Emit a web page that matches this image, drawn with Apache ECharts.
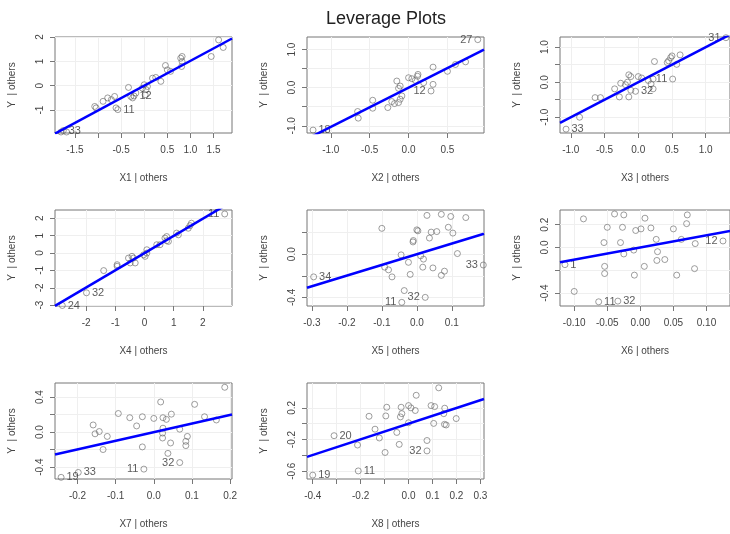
<!DOCTYPE html>
<html><head><meta charset="utf-8">
<script src="https://cdn.jsdelivr.net/npm/echarts@6/dist/echarts.min.js"></script>
<style>html,body{margin:0;padding:0;background:#fff}#c{width:730px;height:534px}</style>
</head><body><div id="c"></div>
<script>
const xNames = ['X1 | others','X2 | others','X3 | others','X4 | others','X5 | others','X6 | others','X7 | others','X8 | others'];
const slopes = [1.02, 1.03, 1.0, 0.99, 0.99, 1.07, 0.985, 0.988];

const x1 = [1.61,1.71,1.45,0.79,0.82,0.81,0.46,0.50,0.57,0.18,0.36,0.07,0.00,0.04,0.02,-0.18,-0.25,-0.22,-0.34,-0.64,-0.71,-0.79,-0.89,-1.04,-1.07,-0.61,-0.57,-1.75,-1.68,-1.80,0.25,-0.04,-0.29,0.82];
const y1 = [1.88,1.57,1.20,1.13,1.20,0.79,0.83,0.65,0.59,0.31,0.18,-0.03,0.04,-0.16,-0.37,-0.30,-0.50,-0.42,-0.07,-0.44,-0.57,-0.50,-0.64,-0.91,-0.85,-0.91,-0.98,-1.84,-1.90,-1.90,0.34,-0.10,-0.44,0.99];
const lab1 = {17:'12',26:'11',27:'33'};

const x2 = [0.89,0.315,0.603,0.733,0.50,0.121,0.0,0.043,0.086,-0.151,-0.108,-0.129,-0.086,-0.108,-0.129,-0.216,-0.181,-0.267,-0.461,-0.461,-0.655,-0.647,-1.228,0.289,0.315,0.194,0.115];
const y2 = [1.261,0.539,0.609,0.678,0.43,0.348,0.261,0.235,0.191,0.174,0.043,-0.017,-0.217,-0.304,-0.391,-0.365,-0.417,-0.522,-0.33,-0.539,-0.626,-0.8,-1.113,-0.087,0.087,0.13,0.30];
const lab2 = {0:'27',22:'18',23:'12'};

const x3 = [1.30,0.62,0.48,0.50,0.45,0.43,0.57,0.24,0.51,0.22,0.15,0.19,0.22,0.00,0.05,-0.14,-0.11,-0.16,-0.19,-0.26,-0.11,-0.04,-0.35,-0.28,-0.14,-0.64,-0.56,-0.87,-1.07];
const y3 = [1.27,0.78,0.70,0.75,0.61,0.56,0.51,0.59,0.09,0.09,0.05,-0.05,-0.19,0.16,0.12,0.21,0.16,0.00,-0.07,-0.03,-0.23,-0.26,-0.19,-0.42,-0.42,-0.44,-0.44,-1.00,-1.34];
const lab3 = {0:'31',8:'11',21:'32',28:'33'};

const x4 = [2.75,1.61,1.56,1.50,1.10,1.16,0.76,0.70,0.82,0.76,0.42,0.53,0.08,0.02,-0.03,0.08,-0.43,-0.55,-0.38,-0.32,-0.49,-0.94,-0.94,-1.40,-1.99,-2.82];
const y4 = [2.25,1.72,1.58,1.43,1.15,1.05,0.95,0.86,0.67,0.71,0.48,0.48,0.19,-0.19,-0.10,0.00,-0.19,-0.29,-0.29,-0.57,-0.57,-0.67,-0.76,-1.01,-2.29,-3.02];
const lab4 = {0:'11',24:'32',25:'24'};

const x5 = [0.029,0.07,0.097,0.14,-0.10,0.09,0.103,0.0,0.003,0.041,0.057,0.036,-0.01,-0.011,-0.045,0.011,0.019,0.116,-0.024,-0.092,-0.081,-0.071,-0.019,0.017,0.046,0.079,0.07,-0.295,-0.036,0.024,-0.043,0.19];
const y5 = [0.36,0.37,0.35,0.34,0.24,0.25,0.196,0.226,0.217,0.205,0.21,0.15,0.127,0.114,-0.006,-0.015,-0.045,0.006,-0.075,-0.12,-0.145,-0.21,-0.187,-0.12,-0.127,-0.157,-0.196,-0.21,-0.337,-0.40,-0.446,-0.10];
const lab5 = {27:'34',29:'32',30:'11',31:'33'};

const x6 = [-0.086,-0.039,-0.025,-0.05,-0.027,-0.007,0.001,0.007,0.016,0.05,0.071,0.07,0.024,0.062,0.083,0.125,-0.055,-0.03,-0.025,-0.01,0.026,0.025,0.037,-0.054,-0.054,-0.009,0.006,0.055,0.082,-0.114,-0.10,-0.063,-0.034];
const y6 = [0.251,0.294,0.286,0.177,0.177,0.149,0.163,0.257,0.171,0.163,0.286,0.209,0.071,0.071,0.034,0.057,0.043,0.043,-0.057,-0.023,-0.037,-0.114,-0.106,-0.166,-0.229,-0.243,-0.166,-0.243,-0.186,-0.151,-0.386,-0.477,-0.471];
const lab6 = {15:'12',29:'1',31:'11',32:'32'};

const x7 = [0.186,0.107,0.018,-0.093,-0.063,-0.03,0.0,0.024,0.033,0.046,0.133,0.164,-0.045,-0.159,-0.143,-0.154,-0.122,0.024,0.023,0.023,0.068,0.088,0.084,0.084,0.044,-0.03,-0.133,0.037,0.068,-0.026,-0.243,-0.198];
const y7 = [0.513,0.318,0.345,0.213,0.165,0.176,0.157,0.165,0.146,0.206,0.176,0.139,0.071,0.082,0.007,-0.019,-0.049,0.045,-0.011,-0.067,0.034,-0.049,-0.105,-0.154,-0.124,-0.169,-0.199,-0.243,-0.348,-0.423,-0.517,-0.461];
const lab7 = {28:'32',29:'11',30:'19',31:'33'};

const x8 = [0.126,0.032,-0.091,-0.095,-0.031,-0.028,-0.034,0.0,0.01,0.028,0.094,0.109,0.151,0.147,0.199,0.0,0.105,0.15,0.157,-0.165,-0.14,-0.122,-0.049,-0.039,-0.098,-0.213,0.077,0.077,-0.311,-0.21,-0.40];
const y8 = [0.453,0.359,0.208,0.098,0.208,0.127,0.086,0.229,0.2,0.167,0.229,0.216,0.196,0.127,0.065,0.012,0.004,-0.008,-0.016,0.094,-0.069,-0.18,-0.11,-0.261,-0.363,-0.269,-0.212,-0.343,-0.151,-0.596,-0.649];
const lab8 = {27:'32',28:'20',29:'11',30:'19'};

// axis ticks and tick labels
const xTicks = [[-1.5,-1,-0.5,0,0.5,1,1.5],[-1,-0.5,0,0.5],[-1,-0.5,0,0.5,1],[-2,-1,0,1,2],[-0.3,-0.2,-0.1,0,0.1],[-0.1,-0.05,0,0.05,0.1],[-0.2,-0.1,0,0.1,0.2],[-0.4,-0.3,-0.2,-0.1,0,0.1,0.2,0.3]];
const xTickLabels = [['-1.5','','-0.5','','0.5','1.0','1.5'],['-1.0','-0.5','0.0','0.5'],['-1.0','-0.5','0.0','0.5','1.0'],['-2','-1','0','1','2'],['-0.3','-0.2','-0.1','0.0','0.1'],['-0.10','-0.05','0.00','0.05','0.10'],['-0.2','-0.1','0.0','0.1','0.2'],['-0.4','','-0.2','','0.0','0.1','0.2','0.3']];
const yTicks = [[-1,0,1,2],[-1,-0.5,0,0.5,1],[-1,-0.5,0,0.5,1],[-3,-2,-1,0,1,2],[-0.4,-0.2,0,0.2],[-0.4,-0.2,0,0.2],[-0.4,-0.2,0,0.2,0.4],[-0.6,-0.4,-0.2,0,0.2]];
const yTickLabels = [['-1','0','1','2'],['-1.0','','0.0','','1.0'],['-1.0','','0.0','','1.0'],['-3','-2','-1','0','1','2'],['-0.4','','0.0',''],['-0.4','','0.0','0.2'],['-0.4','','0.0','','0.4'],['-0.6','','-0.2','','0.2']];

const xRanges = [[-1.93,1.90],[-1.306,0.97],[-1.16,1.36],[-3.07,3.0],[-0.314,0.192],[-0.1215,0.1356],[-0.259,0.205],[-0.424,0.315]];
const yRanges = [[-1.94,2.0],[-1.19,1.33],[-1.45,1.29],[-3.05,2.48],[-0.48,0.41],[-0.514,0.329],[-0.536,0.562],[-0.698,0.514]];

const xs = [x1,x2,x3,x4,x5,x6,x7,x8];
const ys = [y1,y2,y3,y4,y5,y6,y7,y8];
const labs = [lab1,lab2,lab3,lab4,lab5,lab6,lab7,lab8];

const lefts = [55,307,560], tops = [37,210,383];
const FONT = 'Liberation Sans, Arial, sans-serif';

const grids = [], xAxes = [], yAxes = [], series = [];
function lookup(ticks, labels, v){
  for (let i=0;i<ticks.length;i++) if (Math.abs(ticks[i]-v) < 1e-9) return labels[i];
  return '';
}
for (let p=0;p<8;p++){
  const r = Math.floor(p/3), c = p%3;
  grids.push({left: lefts[c], top: tops[r], width: 177, height: 96, show: true, borderColor: '#777', borderWidth: 1, backgroundColor: 'transparent'});
  const xt = xTicks[p], xl = xTickLabels[p], yt = yTicks[p], yl = yTickLabels[p];
  xAxes.push({type:'value', gridIndex:p, min:xRanges[p][0], max:xRanges[p][1],
    name: xNames[p], nameLocation:'middle', nameGap: 40, nameTextStyle:{fontSize:10, color:'#444', fontFamily:FONT},
    axisLine:{show:false, onZero:false},
    axisTick:{show:true, inside:false, length:5, customValues: xt, lineStyle:{color:'#777'}},
    axisLabel:{customValues: xt, margin: 12, fontSize:10, color:'#444', fontFamily:FONT, formatter: v => lookup(xt, xl, v)},
    splitLine:{show:false}
  });
  yAxes.push({type:'value', gridIndex:p, min:yRanges[p][0], max:yRanges[p][1],
    name: 'Y  | others', nameLocation:'middle', nameGap: 38, nameTextStyle:{fontSize:10, color:'#444', fontFamily:FONT},
    axisLine:{show:false, onZero:false},
    axisTick:{show:true, inside:false, length:5, customValues: yt, lineStyle:{color:'#777'}},
    axisLabel:{customValues: yt, rotate:90, margin: 10, fontSize:10, color:'#444', fontFamily:FONT, formatter: v => lookup(yt, yl, v)},
    splitLine:{show:false}
  });
  const gridLines = xt.map(v => ({xAxis: v})).concat(yt.map(v => ({yAxis: v})));
  const mid = (xRanges[p][0]+xRanges[p][1])/2;
  const data = xs[p].map((x,i) => {
    const t = labs[p][i];
    const item = {value:[x, ys[p][i]]};
    if (t) item.label = {show:true, formatter:t, position: x>mid ? 'left':'right', distance:2, fontSize:11, color:'#333', fontFamily:FONT};
    return item;
  });
  series.push({type:'scatter', xAxisIndex:p, yAxisIndex:p, data, symbol:'circle', symbolSize:6,
    itemStyle:{color:'rgba(0,0,0,0)', borderColor:'#666', borderWidth:0.8}, z:2, silent:true,
    markLine:{silent:true, symbol:'none', label:{show:false}, lineStyle:{color:'#efefef', width:1, type:'solid'}, data: gridLines, z:1}});
  const s = slopes[p];
  series.push({type:'line', xAxisIndex:p, yAxisIndex:p, data:[[xRanges[p][0], s*xRanges[p][0]],[xRanges[p][1], s*xRanges[p][1]]],
    symbol:'none', lineStyle:{color:'#0000ff', width:2.5}, z:3, clip:true, silent:true});
}
const chart = echarts.init(document.getElementById('c'));
chart.setOption({
  animation:false,
  backgroundColor:'#fff',
  title:{text:'Leverage Plots', left:321, top:5, textStyle:{fontSize:18, fontWeight:'normal', color:'#222', fontFamily:FONT}},
  grid: grids, xAxis: xAxes, yAxis: yAxes, series
});
</script></body></html>
